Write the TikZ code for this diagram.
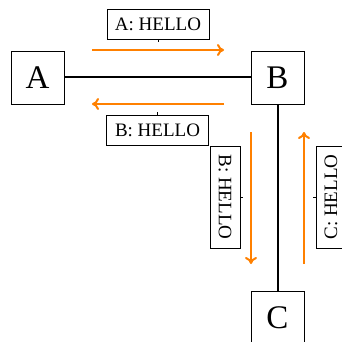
\documentclass[tikz,border=0pt]{standalone}
\usepackage{fontspec}
\setmainfont{Liberation Serif}
\usepackage{tikz}
\usetikzlibrary{arrows.meta,positioning}
\definecolor{msgorange}{RGB}{255,128,0}

\begin{document}
\begin{tikzpicture}[x=0.5pt,y=-0.5pt,
    peer/.style={draw,line width=0.45pt,inner sep=0pt,minimum size=26.5pt,font=\fontsize{16.5}{18}\selectfont},
    msg/.style={draw,line width=0.45pt,inner xsep=0pt,inner ysep=0pt,minimum width=51pt,minimum height=15pt,font=\fontsize{9.5}{11}\selectfont},
    flow/.style={line width=1pt,msgorange,-{To[length=3.5pt,width=6pt]}}]
  \useasboundingbox (0,0) rectangle (342,342);
  % peers and links
  \node[peer] (A) at (37.5,77.5) {A};
  \node[peer] (B) at (277.5,77.5) {B};
  \node[peer] (C) at (277.5,317.5) {C};
  \draw[line width=1pt] (A) -- (B);
  \draw[line width=1pt] (B) -- (C);
  % messages
  \coordinate (ab0) at (92,50);  \coordinate (ab1) at (224,50);
  \coordinate (ba0) at (224,104); \coordinate (ba1) at (92,104);
  \coordinate (bc0) at (251,132); \coordinate (bc1) at (251,264);
  \coordinate (cb0) at (304,264); \coordinate (cb1) at (304,132);
  \draw[flow] (ab0) -- (ab1);
  \draw[flow] (ba0) -- (ba1);
  \draw[flow] (bc0) -- (bc1);
  \draw[flow] (cb0) -- (cb1);
  \node[msg] (mab) at (158,24) {A: HELLO};
  \node[msg] (mba) at (157.5,130.5) {B: HELLO};
  \node[msg,rotate=-90] (mbc) at (225,197) {B: HELLO};
  \node[msg,rotate=90] (mcb) at (331,197) {C: HELLO};
  \draw[very thin] (mab.south) -- ++(0,3);
  \draw[very thin] (mba.north) -- ++(0,-3);
  \draw[very thin] (mbc.north) -- ++(3,0);
  \draw[very thin] (mcb.north) -- ++(-3,0);
\end{tikzpicture}
\end{document}
